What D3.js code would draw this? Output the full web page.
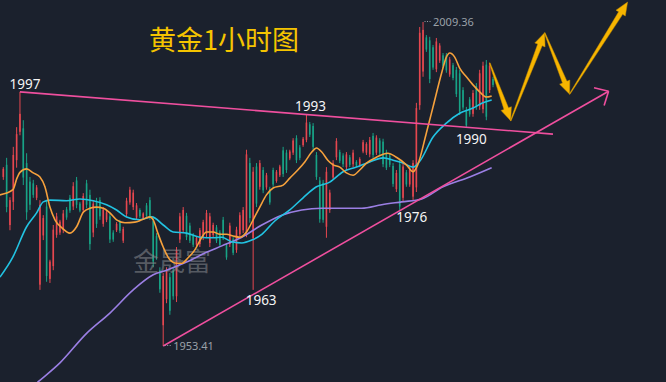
<!DOCTYPE html>
<html>
<head>
<meta charset="utf-8">
<script src="https://cdn.jsdelivr.net/npm/d3@7"></script>
<style>
  body { margin: 0; background: #1b212d; }
  svg { display: block; }
</style>
</head>
<body>
<div id="chart"></div>
<script>
// candle data, one per bar, left to right (red = up, green = down)
const highs = [
  1984.3, 1985.9, 1979.1, 1987.8, 1991.2, 1997.3, 1992.4, 1986.7, 1982.6, 1982.1,
  1981.2, 1978.6, 1976.0, 1978.6, 1968.3, 1974.3, 1976.4, 1975.2, 1976.9, 1977.4,
  1979.5, 1981.7, 1982.6, 1978.3, 1979.8, 1982.1, 1980.4, 1978.6, 1979.0, 1979.1,
  1977.4, 1976.9, 1976.4, 1973.4, 1974.8, 1975.2, 1974.0, 1979.0, 1980.9, 1980.4,
  1978.1, 1977.2, 1976.5, 1978.1, 1979.1, 1975.7, 1972.9, 1967.0, 1966.0, 1967.0,
  1966.0, 1967.0, 1970.5, 1976.4, 1977.4, 1976.4, 1974.7, 1972.9, 1972.4, 1973.8,
  1975.2, 1976.9, 1976.4, 1974.7, 1974.3, 1973.4, 1975.7, 1971.2, 1974.7, 1972.2,
  1974.0, 1976.5, 1977.4, 1987.3, 1985.9, 1984.3, 1985.0, 1985.5, 1984.3, 1983.3,
  1980.9, 1984.2, 1983.8, 1984.7, 1987.8, 1987.3, 1987.3, 1989.3, 1989.8, 1988.1,
  1989.5, 1993.3, 1992.1, 1991.9, 1986.9, 1982.6, 1982.1, 1984.3, 1980.4, 1985.5,
  1989.3, 1987.3, 1986.7, 1986.9, 1986.4, 1987.3, 1985.5, 1986.0, 1989.0, 1988.6,
  1989.5, 1990.2, 1989.8, 1989.3, 1989.2, 1987.3, 1986.7, 1985.0, 1983.8, 1985.5,
  1985.0, 1983.8, 1984.3, 1985.5, 1995.4, 2008.5, 2009.36, 2007.1, 2006.8, 2005.4,
  2006.6, 2005.7, 2004.0, 2004.0, 2003.3, 2002.3, 2001.6, 2001.1, 1998.1, 1994.7,
  1996.4, 1997.6, 1998.8, 2001.1, 2002.5, 2002.8, 2002.3, 1999.9
];
const lows = [
  1982.1, 1976.5, 1973.4, 1976.9, 1984.2, 1989.8, 1981.2, 1975.2, 1976.9, 1979.0,
  1978.6, 1963.1, 1971.7, 1964.5, 1964.3, 1966.5, 1972.1, 1972.6, 1972.9, 1975.2,
  1976.4, 1976.9, 1977.2, 1976.5, 1976.4, 1977.2, 1970.0, 1972.2, 1973.8, 1975.2,
  1974.0, 1974.8, 1971.2, 1971.4, 1973.1, 1972.9, 1971.2, 1975.7, 1977.8, 1976.9,
  1975.2, 1975.5, 1975.2, 1975.5, 1975.2, 1967.0, 1968.3, 1962.6, 1953.41, 1960.8,
  1958.8, 1961.4, 1961.0, 1971.2, 1972.9, 1971.7, 1971.2, 1970.5, 1970.5, 1970.5,
  1971.7, 1972.2, 1970.5, 1972.2, 1971.2, 1970.5, 1971.7, 1968.3, 1970.5, 1969.1,
  1969.5, 1972.2, 1972.9, 1972.2, 1974.7, 1963.1, 1977.4, 1980.4, 1979.8, 1980.4,
  1977.8, 1980.9, 1981.6, 1982.6, 1982.6, 1983.3, 1985.5, 1986.4, 1985.0, 1985.5,
  1987.8, 1988.6, 1989.5, 1987.3, 1982.1, 1974.7, 1974.7, 1972.1, 1976.4, 1982.1,
  1985.5, 1985.0, 1984.3, 1983.8, 1984.3, 1984.3, 1984.3, 1984.3, 1986.7, 1986.4,
  1986.0, 1985.9, 1986.4, 1986.4, 1984.3, 1983.8, 1984.3, 1980.9, 1980.0, 1976.9,
  1978.3, 1980.9, 1980.9, 1978.6, 1980.0, 1994.2, 1999.9, 2004.2, 1998.8, 2001.1,
  2000.7, 2002.3, 2001.4, 2000.6, 1999.9, 1999.3, 1996.4, 1993.3, 1994.2, 1991.1,
  1993.0, 1993.0, 1994.2, 1994.2, 1993.6, 1992.4, 1997.1, 1998.1
];
const opens = [
  1982.6, 1984.7, 1974.3, 1978.3, 1985.5, 1990.4, 1991.0, 1985.0, 1981.8, 1981.5,
  1979.0, 1964.0, 1972.5, 1977.5, 1965.0, 1967.2, 1972.6, 1973.0, 1973.5, 1977.0,
  1979.0, 1977.5, 1982.0, 1978.0, 1976.9, 1981.5, 1979.5, 1973.0, 1978.4, 1978.6,
  1974.5, 1975.2, 1975.8, 1973.0, 1973.4, 1974.8, 1971.6, 1976.2, 1978.2, 1977.4,
  1975.6, 1976.9, 1975.4, 1977.7, 1978.6, 1975.0, 1972.4, 1966.5, 1957.0, 1961.5,
  1965.3, 1966.4, 1962.0, 1971.8, 1973.4, 1975.9, 1974.2, 1972.5, 1970.9, 1971.0,
  1972.2, 1972.8, 1971.2, 1972.6, 1973.9, 1973.0, 1975.2, 1970.8, 1971.0, 1971.8,
  1970.0, 1972.7, 1973.4, 1973.0, 1985.0, 1972.0, 1984.4, 1980.9, 1983.8, 1980.8,
  1980.5, 1983.8, 1981.9, 1982.9, 1987.2, 1986.8, 1985.8, 1986.8, 1989.3, 1987.7,
  1988.1, 1989.0, 1991.7, 1991.4, 1986.4, 1982.0, 1981.6, 1974.0, 1976.9, 1982.5,
  1986.0, 1986.9, 1986.3, 1984.3, 1986.0, 1984.8, 1985.2, 1984.6, 1987.0, 1986.8,
  1986.5, 1989.7, 1986.8, 1988.9, 1988.7, 1986.8, 1986.3, 1984.5, 1980.5, 1984.8,
  1979.0, 1983.4, 1981.3, 1979.2, 1980.8, 1995.0, 2000.8, 2006.7, 2006.2, 2005.0,
  2001.2, 2002.7, 2003.6, 2003.6, 2000.3, 2001.9, 2001.1, 2000.5, 1997.6, 1994.2,
  1996.0, 1993.5, 1998.3, 1994.8, 1994.3, 2002.0, 1997.6, 1999.5
];
const closes = [
  1984.0, 1977.4, 1978.6, 1986.4, 1990.0, 1993.5, 1982.5, 1976.5, 1977.8, 1979.5,
  1980.8, 1977.8, 1975.5, 1965.5, 1968.0, 1973.5, 1975.8, 1974.9, 1976.3, 1975.6,
  1976.8, 1981.0, 1977.8, 1976.8, 1979.3, 1977.8, 1971.0, 1978.0, 1974.5, 1975.8,
  1977.0, 1976.5, 1971.8, 1971.8, 1974.5, 1973.3, 1973.6, 1978.5, 1980.4, 1979.9,
  1977.7, 1975.8, 1976.3, 1975.9, 1975.7, 1968.0, 1968.8, 1963.2, 1965.5, 1966.5,
  1959.5, 1962.0, 1970.0, 1975.8, 1976.9, 1972.2, 1971.6, 1970.9, 1972.1, 1973.4,
  1974.8, 1976.4, 1975.8, 1974.3, 1971.6, 1970.9, 1972.2, 1968.7, 1974.2, 1969.5,
  1973.5, 1976.0, 1976.9, 1986.5, 1975.5, 1983.5, 1978.0, 1985.0, 1980.3, 1982.9,
  1978.2, 1981.3, 1983.5, 1984.4, 1983.1, 1983.8, 1987.0, 1988.9, 1985.5, 1985.9,
  1989.2, 1992.0, 1989.9, 1987.8, 1982.6, 1975.3, 1975.2, 1983.5, 1979.9, 1985.0,
  1988.8, 1985.4, 1984.8, 1986.5, 1984.7, 1986.8, 1984.6, 1985.7, 1988.6, 1988.3,
  1989.0, 1986.4, 1989.4, 1986.8, 1984.8, 1984.2, 1984.7, 1981.4, 1983.3, 1977.5,
  1984.4, 1981.3, 1983.9, 1985.0, 1994.5, 2007.5, 2008.0, 2004.6, 1999.5, 2001.5,
  2006.0, 2005.3, 2001.8, 2001.0, 2002.9, 1999.7, 1996.9, 1993.9, 1994.6, 1991.5,
  1993.4, 1997.1, 1994.7, 2000.5, 2001.8, 1993.0, 2001.8, 1998.5
];

// moving averages: [bar index, price]
const maFast = [
  [-1, 1979.5], [2.9, 1980.4], [4.1, 1982.4], [5, 1983.4], [7, 1984.0], [9, 1983.3],
  [11, 1982.6], [12.5, 1980.9], [14, 1977.4], [15.5, 1975.2], [17.6, 1973.8], [20, 1972.9],
  [22, 1974.0], [24, 1976.5], [26, 1977.2], [28, 1977.4], [30, 1977.2], [32, 1976.4],
  [34, 1975.2], [36.5, 1974.7], [39.5, 1974.8], [41.6, 1975.2], [44, 1975.7], [45, 1975.2],
  [46.4, 1972.9], [48, 1970.5], [50, 1968.3], [52, 1967.7], [53.6, 1967.7], [55.4, 1968.6],
  [57.5, 1970.0], [59.6, 1972.2], [61, 1973.1], [63, 1973.1], [65, 1972.7], [67, 1972.7],
  [69, 1972.4], [71, 1972.2], [73, 1973.1], [75, 1975.2], [77, 1977.4], [79, 1979.5],
  [81, 1980.7], [84, 1981.2], [86, 1982.4], [88.4, 1983.8], [90.5, 1985.2], [92.6, 1986.9],
  [94, 1987.6], [95.6, 1986.9], [97.4, 1985.5], [99, 1984.7], [101, 1984.3], [103, 1983.3],
  [105, 1982.9], [107, 1983.8], [109, 1985.0], [112, 1986.0], [115.4, 1986.7], [118, 1986.0],
  [121, 1984.7], [123, 1983.5], [124.4, 1984.7], [127, 1990.2], [129, 1994.7], [131.6, 2000.6],
  [133, 2003.3], [134, 2004.0], [135.5, 2003.3], [137, 2001.4], [139, 1999.9], [141, 1998.5],
  [143, 1997.3], [145, 1996.4], [146.6, 1996.6]
];
const maMid = [
  [-1, 1965.3], [2.9, 1968.8], [7, 1974.0], [10, 1976.4], [12, 1978.3], [14, 1978.6],
  [19, 1978.5], [23, 1978.8], [27, 1978.5], [31, 1977.8], [34, 1976.9], [37, 1975.7],
  [41, 1975.2], [44.6, 1975.7], [48, 1974.3], [51, 1973.1], [55, 1972.9], [59, 1972.2],
  [63, 1972.1], [65.6, 1972.2], [68.6, 1971.4], [71.6, 1971.2], [74.6, 1971.7], [77.6, 1972.7],
  [81.5, 1975.0], [86, 1976.9], [90, 1979.0], [94, 1980.9], [98, 1981.7], [102, 1983.5],
  [106, 1984.3], [110, 1985.2], [114, 1985.9], [117, 1985.5], [120, 1985.0], [123, 1984.3],
  [125, 1985.3], [129, 1989.5], [133, 1991.9], [137, 1993.6], [141, 1994.5], [144, 1995.4],
  [146.6, 1995.9]
];
const maSlow = [
  [9, 1946.5], [10.4, 1947.2], [17, 1950.5], [25, 1955.6], [32, 1959.1], [39, 1963.1],
  [45, 1965.7], [49, 1966.5], [55, 1967.9], [61, 1969.6], [65.6, 1970.7], [71.6, 1972.2],
  [77.6, 1974.3], [83.6, 1976.0], [89.6, 1976.9], [95.6, 1977.2], [101.6, 1977.2], [107.6, 1977.2],
  [113.6, 1977.8], [119.6, 1978.3], [125.6, 1978.8], [132, 1980.9], [140, 1982.6], [146.6, 1984.2]
];

// trend lines and projected path: [bar index, price]
const upperTrend = [[5, 1997.3], [165, 1990.0]];
const lowerTrend = [[48, 1953.41], [181.7, 1997.4]];
const projection = [[146, 2002.3], [152.3, 1992.3], [162.5, 2007.5], [170, 1996.9], [187.4, 2012.8]];

// price labels: [text, bar index, price, dx, dy]
const levelLabels = [
  ['1997', 5, 1997.3, 5, -3],
  ['1993', 91, 1993.3, 4, -4],
  ['1990', 139, 1991.1, 5, 16],
  ['1976', 119, 1976.9, 12, 12],
  ['1963', 75, 1963.1, 8, 15]
];
const extremes = [[126, 2009.36], [48, 1953.41]];

const width = 666;
const height = 382;

const svg = d3.select('#chart')
  .append('svg')
  .attr('width', width)
  .attr('height', height);

svg.append('rect')
  .attr('width', width)
  .attr('height', height)
  .attr('fill', '#1b212d');

const x = d3.scaleLinear().domain([0, 147]).range([3.3, 493]);
const y = d3.scaleLinear().domain([1953.41, 2009.36]).range([346, 22]);

const up = '#e5474f';
const down = '#18a386';

// title
svg.append('text')
  .attr('x', 149)
  .attr('y', 50)
  .attr('font-family', 'Noto Sans CJK SC')
  .attr('font-size', 27)
  .attr('fill', '#f5c400')
  .text('黄金1小时图');

// candles
const candles = svg.append('g')
  .selectAll('g')
  .data(d3.range(highs.length))
  .enter()
  .append('g')
  .attr('stroke', (i) => (closes[i] >= opens[i] ? up : down))
  .attr('fill', (i) => (closes[i] >= opens[i] ? up : down));

candles.append('line')
  .attr('x1', (i) => x(i))
  .attr('x2', (i) => x(i))
  .attr('y1', (i) => y(highs[i]))
  .attr('y2', (i) => y(lows[i]))
  .attr('stroke-width', 1);

candles.append('rect')
  .attr('x', (i) => x(i) - 0.8)
  .attr('width', 1.6)
  .attr('y', (i) => y(Math.max(opens[i], closes[i])))
  .attr('height', (i) => Math.max(1, Math.abs(y(opens[i]) - y(closes[i]))))
  .attr('stroke', 'none');

// watermark sits over the bars
svg.append('text')
  .attr('x', 133)
  .attr('y', 271)
  .attr('font-family', 'Noto Sans CJK SC')
  .attr('font-size', 26)
  .attr('fill', '#8b8d91')
  .attr('fill-opacity', 0.55)
  .text('金晟富');

// moving averages
const line = d3.line()
  .x((d) => x(d[0]))
  .y((d) => y(d[1]))
  .curve(d3.curveMonotoneX);

[[maSlow, '#9b7fe4'], [maMid, '#22c3e2'], [maFast, '#f6a13c']].forEach(([data, color]) => {
  svg.append('path')
    .datum(data)
    .attr('d', line)
    .attr('fill', 'none')
    .attr('stroke', color)
    .attr('stroke-width', 1.6);
});

// trend lines
const straight = d3.line()
  .x((d) => x(d[0]))
  .y((d) => y(d[1]));

svg.append('path')
  .datum(upperTrend)
  .attr('d', straight)
  .attr('stroke', '#ef4f9e')
  .attr('stroke-width', 1.6)
  .attr('fill', 'none');

svg.append('path')
  .datum(lowerTrend)
  .attr('d', straight)
  .attr('stroke', '#ef4f9e')
  .attr('stroke-width', 1.6)
  .attr('fill', 'none');

// open arrow head on the rising line
const tip = [x(lowerTrend[1][0]), y(lowerTrend[1][1])];
const tail = [x(lowerTrend[0][0]), y(lowerTrend[0][1])];
const back = Math.atan2(tail[1] - tip[1], tail[0] - tip[0]);
[-0.75, 0.75].forEach((a) => {
  svg.append('line')
    .attr('x1', tip[0])
    .attr('y1', tip[1])
    .attr('x2', tip[0] + 15 * Math.cos(back + a))
    .attr('y2', tip[1] + 15 * Math.sin(back + a))
    .attr('stroke', '#ef4f9e')
    .attr('stroke-width', 1.6);
});

// projected zig-zag arrows
function arrowShape(a, b) {
  const dx = b[0] - a[0];
  const dy = b[1] - a[1];
  const len = Math.hypot(dx, dy);
  const ux = dx / len;
  const uy = dy / len;
  const nx = -uy;
  const ny = ux;
  const hl = 13;
  const hx = b[0] - ux * hl;
  const hy = b[1] - uy * hl;
  const pts = [
    [a[0] + nx * 0.4, a[1] + ny * 0.4],
    [hx + nx * 2.4, hy + ny * 2.4],
    [hx + nx * 5.5, hy + ny * 5.5],
    b,
    [hx - nx * 5.5, hy - ny * 5.5],
    [hx - nx * 2.4, hy - ny * 2.4],
    [a[0] - nx * 0.4, a[1] - ny * 0.4]
  ];
  return 'M' + pts.map((p) => p.join(',')).join('L') + 'Z';
}

const proj = projection.map((d) => [x(d[0]), y(d[1])]);
svg.append('g')
  .selectAll('path')
  .data(d3.pairs(proj))
  .enter()
  .append('path')
  .attr('d', (p) => arrowShape(p[0], p[1]))
  .attr('fill', '#f7b500')
  .attr('stroke', '#c98f00')
  .attr('stroke-width', 0.5);

// level labels
svg.append('g')
  .selectAll('text')
  .data(levelLabels)
  .enter()
  .append('text')
  .attr('x', (d) => x(d[1]) + d[3])
  .attr('y', (d) => y(d[2]) + d[4])
  .attr('text-anchor', 'middle')
  .attr('font-family', 'Noto Sans')
  .attr('font-size', 13.5)
  .attr('fill', '#f4f4f4')
  .text((d) => d[0]);

// high / low markers
extremes.forEach(([i, p]) => {
  svg.append('line')
    .attr('x1', x(i) + 1.5)
    .attr('x2', x(i) + 9)
    .attr('y1', y(p) - 0.5)
    .attr('y2', y(p) - 0.5)
    .attr('stroke', '#9aa0a8')
    .attr('stroke-dasharray', '1,1.5');
  svg.append('text')
    .attr('x', x(i) + 10)
    .attr('y', y(p) + 4)
    .attr('font-family', 'Noto Sans')
    .attr('font-size', 11)
    .attr('fill', '#9aa0a8')
    .text(p.toFixed(2));
});
</script>
</body>
</html>
